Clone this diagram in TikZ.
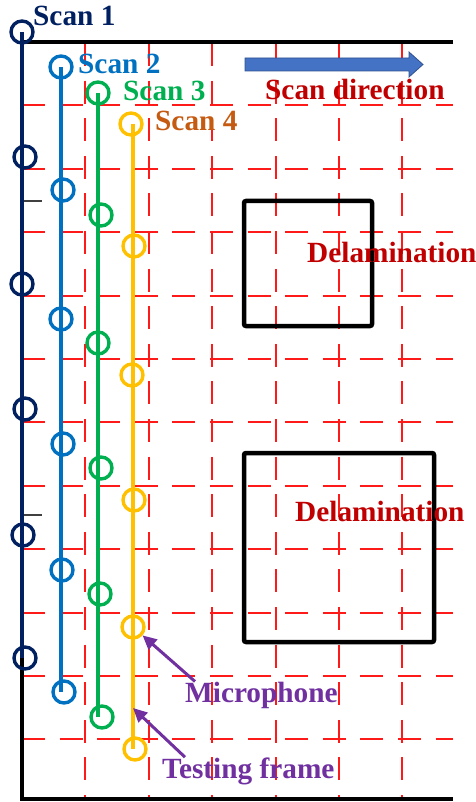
\documentclass[tikz,border=0pt]{standalone}
\usepackage{fontspec}
\setmainfont{Liberation Serif}
\usetikzlibrary{arrows.meta}
\definecolor{navy}{HTML}{002060}
\definecolor{sblue}{HTML}{0070C0}
\definecolor{sgreen}{HTML}{00B050}
\definecolor{sgold}{HTML}{FFC000}
\definecolor{sbrown}{HTML}{C55A11}
\definecolor{dred}{HTML}{C00000}
\definecolor{spurple}{HTML}{7030A0}
\definecolor{afill}{HTML}{4472C4}
\definecolor{aedge}{HTML}{2F528F}
\definecolor{gridred}{HTML}{FF1A1A}
\tikzset{
  gridline/.style={draw=gridred, line width=2pt, dash pattern=on 23pt off 14.6pt},
  frameline/.style={draw=black, line width=4pt},
  tickline/.style={draw=black!75, line width=1.5pt},
  delbox/.style={draw=black, line width=4.5pt, rounded corners=2pt},
  mic/.style={circle, draw=#1, line width=3.4pt, minimum size=22pt, inner sep=0pt},
  scanline/.style={draw=#1, line width=3.2pt},
  lbl/.style={font=\fontsize{29.3}{33}\selectfont\bfseries, text=#1, inner sep=0pt, anchor=base west},
  pointer/.style={draw=spurple, line width=3pt, -{Triangle[length=14pt,width=13pt]}},
}
\begin{document}
\begin{tikzpicture}[x=1pt,y=-1pt]
\useasboundingbox (0,0) rectangle (475,802);
% grid
\foreach \gy in {105.4,168.8,232.2,295.6,359,422.4,485.8,549.2,612.6,676,739.4}
  \draw[gridline] (22,\gy) -- (453,\gy);
\foreach \gx in {85.4,148.8,212.2,275.6,339,402.4}
  \draw[gridline] (\gx,43) -- (\gx,799);
% frame
\draw[frameline] (453,42) -- (22,42) -- (22,799) -- (453,799);
\draw[tickline] (22,201) -- (42,201);
\draw[tickline] (22,515) -- (42,515);
% delamination boxes
\draw[delbox] (244,201) rectangle (372,326);
\draw[delbox] (244,453) rectangle (434,642);
% scan direction arrow
\draw[fill=afill, draw=aedge, line width=0.8pt]
  (245,58) -- (409,58) -- (409,52) -- (423,64.5) -- (409,77) -- (409,71) -- (245,71) -- cycle;
% scan 1
\node[mic=navy] (s1a) at (22,32) {};
\node[mic=navy] (s1b) at (25,157) {};
\node[mic=navy] (s1c) at (22,284) {};
\node[mic=navy] (s1d) at (25,409) {};
\node[mic=navy] (s1e) at (23,535) {};
\node[mic=navy] (s1f) at (25,658) {};
\draw[scanline=navy] (s1a.center) -- (s1a.center |- s1f.center);
% scan 2
\node[mic=sblue] (s2a) at (61,67) {};
\node[mic=sblue] (s2b) at (63,190) {};
\node[mic=sblue] (s2c) at (61,319) {};
\node[mic=sblue] (s2d) at (63,444) {};
\node[mic=sblue] (s2e) at (62,570) {};
\node[mic=sblue] (s2f) at (64,692) {};
\draw[scanline=sblue] (s2a.center) -- (s2a.center |- s2f.center);
% scan 3
\node[mic=sgreen] (s3a) at (98,93) {};
\node[mic=sgreen] (s3b) at (101,215) {};
\node[mic=sgreen] (s3c) at (98,343) {};
\node[mic=sgreen] (s3d) at (101,468) {};
\node[mic=sgreen] (s3e) at (100,594) {};
\node[mic=sgreen] (s3f) at (102,717) {};
\draw[scanline=sgreen] (s3a.center) -- (s3a.center |- s3f.center);
% scan 4
\node[mic=sgold] (s4a) at (131,124) {};
\node[mic=sgold] (s4b) at (134,246) {};
\node[mic=sgold] (s4c) at (132,375) {};
\node[mic=sgold] (s4d) at (134,500) {};
\node[mic=sgold] (s4e) at (133,627) {};
\node[mic=sgold] (s4f) at (135,749) {};
\draw[scanline=sgold] (133,124) -- (133,749);
% labels
\node[lbl=navy] (l1) at (33,26) {Scan 1};
\node[lbl=sblue] (l2) at (78,74) {Scan 2};
\node[lbl=sgreen] (l3) at (123,101) {Scan 3};
\node[lbl=sbrown] (l4) at (155,131) {Scan 4};
\node[lbl=dred] (sd) at (265,100) {Scan direction};
\node[lbl=dred] (d1) at (307,262) {Delamination};
\node[lbl=dred] (d2) at (295,521) {Delamination};
\node[lbl=spurple] (micl) at (185,702) {Microphone};
\node[lbl=spurple] (tfl) at (162,778) {Testing frame};
% pointers
\coordinate (tfpt) at (133,708);
\draw[pointer] ([xshift=10pt]micl.north west) -- (s4e);
\draw[pointer] ([xshift=23pt]tfl.north west) -- (tfpt);
\end{tikzpicture}
\end{document}
